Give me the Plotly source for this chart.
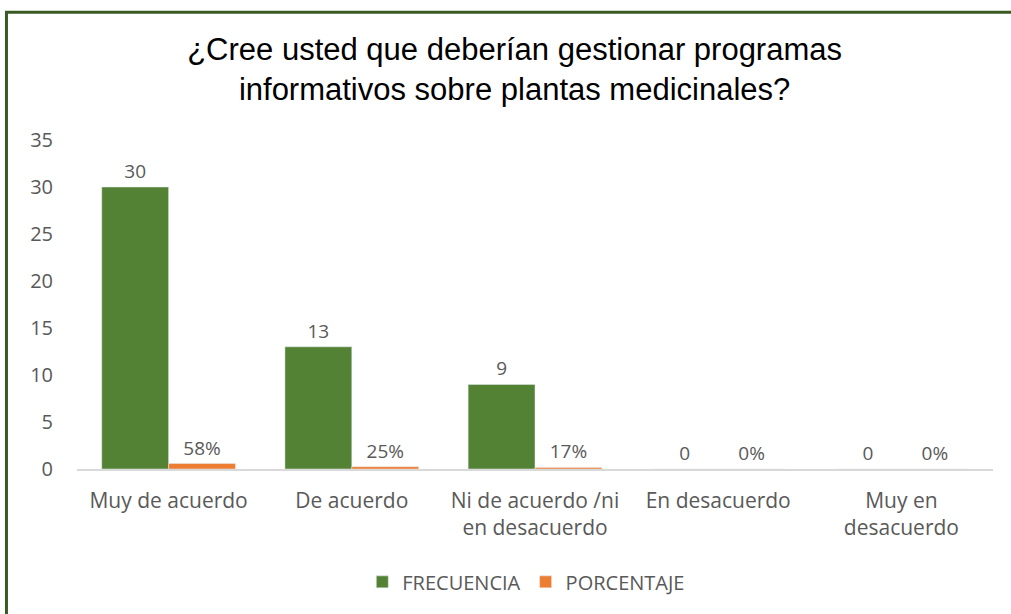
import plotly.graph_objects as go

categories = ["Muy de acuerdo", "De acuerdo", "Ni de acuerdo /ni<br>en desacuerdo",
              "En desacuerdo", "Muy en<br>desacuerdo"]
frecuencia = [30, 13, 9, 0, 0]
porcentaje = [0.58, 0.25, 0.17, 0.0, 0.0]
y_ticks = [0, 5, 10, 15, 20, 25, 30, 35]

GREEN = "#548235"
ORANGE = "#ED7D31"
GRAY = "#595959"
FONT = "Open Sans"

fig = go.Figure()
fig.add_trace(go.Bar(
    x=categories, y=frecuencia, name="FRECUENCIA", marker_color=GREEN,
    texttemplate="%{y}", textposition="outside", cliponaxis=False,
    textfont=dict(family=FONT, size=19, color=GRAY),
))
fig.add_trace(go.Bar(
    x=categories, y=porcentaje, name="PORCENTAJE", marker_color=ORANGE,
    texttemplate="%{y:.0%}", textposition="outside", cliponaxis=False,
    textfont=dict(family=FONT, size=19, color=GRAY),
))

fig.update_layout(
    width=1011, height=614,
    paper_bgcolor="white", plot_bgcolor="white",
    margin=dict(l=77, r=18, t=140, b=145),
    barmode="group", bargap=0.27, bargroupgap=0,
    title=dict(
        text="¿Cree usted que deberían gestionar programas<br>informativos sobre plantas medicinales?",
        x=0.509, xanchor="center", y=0.903, yanchor="middle",
        font=dict(family="Liberation Sans", size=31, color="#000000"),
    ),
    legend=dict(
        orientation="h", x=0.4905, xanchor="center", y=-0.343, yanchor="middle",
        font=dict(family=FONT, size=20, color=GRAY), traceorder="normal",
        itemwidth=30,
    ),
    xaxis=dict(
        showline=True, linecolor="#D9D9D9", linewidth=1.5, ticks="",
        ticklabelstandoff=12,
        tickfont=dict(family=FONT, size=21, color=GRAY),
    ),
    yaxis=dict(
        range=[0, 35], tickvals=y_ticks, showgrid=False, zeroline=False,
        showline=False, ticks="", ticklabelstandoff=23,
        tickfont=dict(family=FONT, size=20, color=GRAY),
    ),
    shapes=[dict(
        type="rect", xref="paper", yref="paper",
        x0=-0.077, x1=1.15, y0=-0.6, y1=1.388,
        line=dict(color="#3A5A24", width=3), fillcolor="rgba(0,0,0,0)", layer="above",
    )],
)

fig.write_html("out.html", config={"displayModeBar": False},
               post_script="document.body.style.margin='0px';")
